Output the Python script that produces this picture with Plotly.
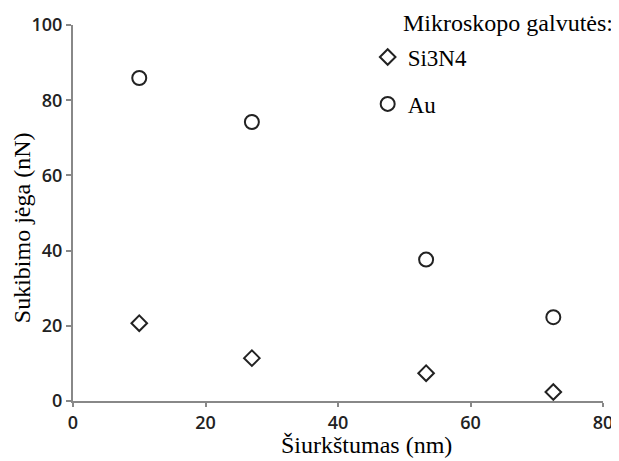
import plotly.graph_objects as go

x_vals = [10, 27, 53.3, 72.5]
si3n4 = [20.7, 11.4, 7.4, 2.4]
au = [85.9, 74.2, 37.6, 22.3]
x_ticks = [0, 20, 40, 60, 80]
y_ticks = [0, 20, 40, 60, 80, 100]

SERIF = "Liberation Serif"

fig = go.Figure()
fig.add_trace(go.Scatter(
    x=x_vals, y=si3n4, mode="markers", name="Si3N4", legendgroup="a",
    marker=dict(symbol="diamond-open", size=12, color="#222", line=dict(width=2, color="#222"))))
fig.add_trace(go.Scatter(
    x=x_vals, y=au, mode="markers", name="Au", legendgroup="b",
    marker=dict(symbol="circle-open", size=14, color="#222", line=dict(width=2, color="#222"))))

tickfont = dict(family="Open Sans", size=18, color="#222", weight=600)
titlefont = dict(family=SERIF, size=24, color="black")
fig.update_layout(
    width=611, height=453,
    margin=dict(l=65, r=16, t=17, b=60),
    paper_bgcolor="white", plot_bgcolor="white",
    showlegend=True,
    legend=dict(x=0.556, y=0.972, xanchor="left", yanchor="top",
                font=dict(family=SERIF, size=23, color="black"),
                tracegroupgap=14, traceorder="grouped", bgcolor="rgba(0,0,0,0)"),
    xaxis=dict(range=[0, 80], tickvals=x_ticks, showgrid=False, zeroline=False,
               showline=True, linecolor="#888", linewidth=2, ticks="outside",
               ticklen=4, tickcolor="#888", tickwidth=2, tickfont=tickfont,
               automargin=False),
    yaxis=dict(range=[0, 100], tickvals=y_ticks, showgrid=False, zeroline=False,
               showline=True, linecolor="#888", linewidth=2, ticks="outside",
               ticklen=5, tickcolor="#888", tickwidth=2, tickfont=tickfont,
               automargin=False),
    annotations=[
        dict(text="Mikroskopo galvutės:", xref="paper", yref="paper",
             x=0.619, y=1.005, xanchor="left", yanchor="middle", showarrow=False,
             font=titlefont),
        dict(text="Šiurkštumas (nm)", xref="paper", yref="paper",
             x=0.553, y=-0.117, xanchor="center", yanchor="middle", showarrow=False,
             font=titlefont),
        dict(text="Sukibimo jėga (nN)", xref="paper", yref="paper", textangle=-90,
             x=-0.096, y=0.46, xanchor="center", yanchor="middle", showarrow=False,
             font=titlefont),
    ],
)
fig.write_html("out.html")
